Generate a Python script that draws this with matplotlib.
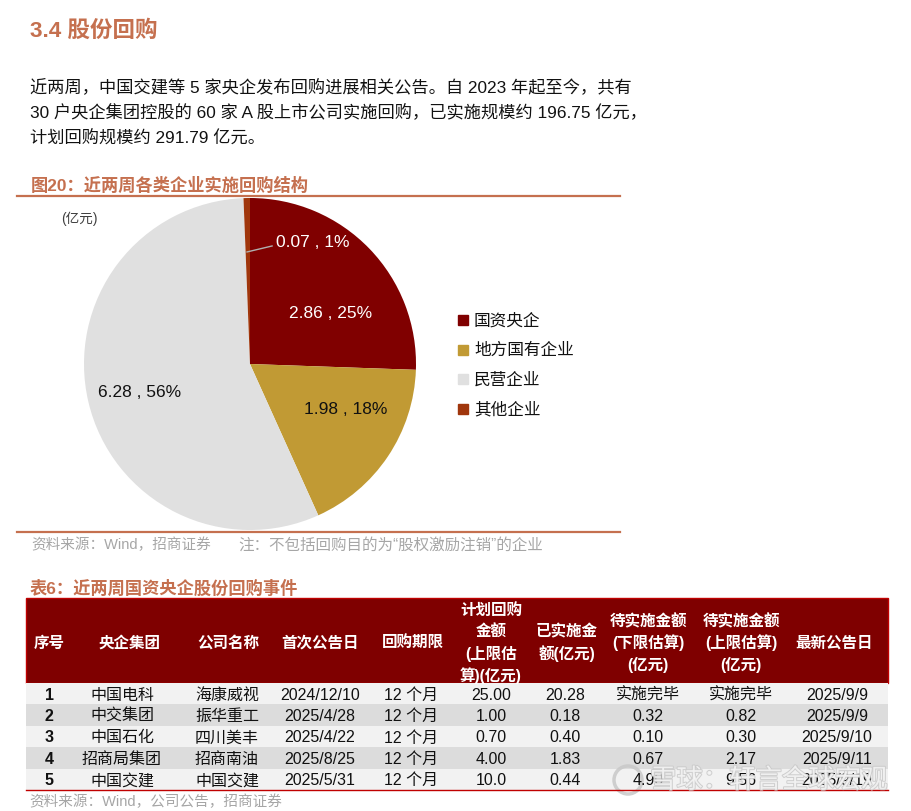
import matplotlib
matplotlib.use('Agg')
import matplotlib.pyplot as plt
from matplotlib.patches import Rectangle
import matplotlib.patheffects as pe

FAM = ['Liberation Sans', 'Noto Sans CJK SC']
plt.rcParams['font.family'] = FAM

# pie data
pie_names = ['国资央企', '地方国有企业', '民营企业', '其他企业']
pie_values = [2.86, 1.98, 6.28, 0.07]
pie_pcts = ['25%', '18%', '56%', '1%']
pie_colors = ['#800000', '#C19A34', '#E0E0E0', '#A0360C']

# table data
headers = ['序号', '央企集团', '公司名称', '首次公告日', '回购期限',
           '计划回购\n金额\n(上限估\n算)(亿元)', '已实施金\n额(亿元)',
           '待实施金额\n(下限估算)\n(亿元)', '待实施金额\n(上限估算)\n(亿元)', '最新公告日']
seq = ['1', '2', '3', '4', '5']
groups = ['中国电科', '中交集团', '中国石化', '招商局集团', '中国交建']
companies = ['海康威视', '振华重工', '四川美丰', '招商南油', '中国交建']
first_dates = ['2024/12/10', '2025/4/28', '2025/4/22', '2025/8/25', '2025/5/31']
periods = ['12 个月', '12 个月', '12 个月', '12 个月', '12 个月']
planned = ['25.00', '1.00', '0.70', '4.00', '10.0']
done = ['20.28', '0.18', '0.40', '1.83', '0.44']
remain_low = ['实施完毕', '0.32', '0.10', '0.67', '4.90']
remain_high = ['实施完毕', '0.82', '0.30', '2.17', '9.56']
latest = ['2025/9/9', '2025/9/9', '2025/9/10', '2025/9/11', '2025/9/19']

W, H = 911, 812
fig = plt.figure(figsize=(W / 100, H / 100), dpi=100)
ax = fig.add_axes([0, 0, 1, 1])
ax.set_xlim(0, W)
ax.set_ylim(H, 0)
ax.axis('off')

orange = '#C5704F'

# heading + paragraph
ax.text(30, 31, '3.4 股份回购', fontsize=16.2, fontweight='bold', color=orange, va='center')
para = ['近两周，中国交建等 5 家央企发布回购进展相关公告。自 2023 年起至今，共有',
        '30 户央企集团控股的 60 家 A 股上市公司实施回购，已实施规模约 196.75 亿元，',
        '计划回购规模约 291.79 亿元。']
for i, line in enumerate(para):
    ax.text(30, 87 + i * 25, line, fontsize=12.4, color='#111111', va='center')

# figure caption
ax.text(31, 185, '图20：近两周各类企业实施回购结构', fontsize=12.4, fontweight='bold',
        color=orange, va='center')
ax.plot([17, 620], [197, 197], color=orange, lw=1.6)
ax.plot([17, 620], [533, 533], color=orange, lw=1.6)
ax.text(31, 545, '资料来源：Wind，招商证券', fontsize=10.5, color='#A6A6A6', va='center')
ax.text(238, 545, '注：不包括回购目的为“股权激励注销”的企业', fontsize=11.2,
        color='#A6A6A6', va='center')
ax.text(61, 219, '(亿元)', fontsize=9.8, color='#404040', va='center')

# legend
for i, (n, c) in enumerate(zip(pie_names, pie_colors)):
    y = 321 + i * 29.5
    ax.add_patch(Rectangle((458, y - 5), 10, 10, color=c))
    ax.text(474, y, n, fontsize=12, color='#111111', va='center')

# pie
cx, cy, r = 250, 365, 166
pad = 1.01
pax = fig.add_axes([(cx - r * pad) / W, (H - cy - r * pad) / H, 2 * r * pad / W, 2 * r * pad / H])
pax.pie(pie_values, colors=pie_colors, startangle=90, counterclock=False,
        wedgeprops=dict(linewidth=0))
pax.set_xlim(-pad, pad)
pax.set_ylim(-pad, pad)
pax.axis('off')

label_pos = [(0.488, 0.313), (0.578, -0.271), (-0.663, -0.163), (0.376, 0.735)]
label_col = ['white', '#111111', '#111111', 'white']
for v, p, pos, col in zip(pie_values, pie_pcts, label_pos, label_col):
    pax.text(pos[0], pos[1], f'{v:.2f} , {p}', fontsize=12.5, color=col,
             ha='center', va='center')
pax.plot([-0.018, 0.133], [0.675, 0.711], color='#B0B0B0', lw=1)

# table
ax.text(30, 588, '表6：近两周国资央企股份回购事件', fontsize=12.4, fontweight='bold',
        color=orange, va='center')
x0, x1 = 26, 888
ax.add_patch(Rectangle((x0, 599), x1 - x0, 85, facecolor='#7F0000', edgecolor='#C00000', lw=1))
hx = [49, 129, 228, 320, 413, 491, 567, 648, 741, 834]
dx = [49, 122, 227, 320, 411, 491, 565, 648, 741, 837]
for x, h in zip(hx, headers):
    lines = h.split('\n')
    n = len(lines)
    for j, ln in enumerate(lines):
        ax.text(x, 643 + (j - (n - 1) / 2) * 21.5, ln, fontsize=11.2, fontweight='bold',
                color='white', ha='center', va='center')

cols = [seq, groups, companies, first_dates, periods, planned, done, remain_low, remain_high, latest]
row_h = 21.4
for i in range(len(seq)):
    top = 684 + i * row_h
    ax.add_patch(Rectangle((x0, top), x1 - x0, row_h, color='#F2F2F2' if i % 2 == 0 else '#DCDCDC', lw=0))
    for k, (x, col) in enumerate(zip(dx, cols)):
        ax.text(x, top + row_h / 2 + 0.5, col[i], fontsize=11.5, color='#111111',
                ha='center', va='center', fontweight='bold' if k == 0 else 'normal')
ax.plot([x0, x1], [791, 791], color='#C00000', lw=1)
ax.text(29, 802, '资料来源：Wind，公司公告，招商证券', fontsize=10.5, color='#A6A6A6', va='center')

# watermark
wm = ax.text(650, 781, '雪球：轩言全球宏观', fontsize=19, color='#F6F6F6', va='center', alpha=0.85)
wm.set_path_effects([pe.withStroke(linewidth=1.4, foreground='#C8C8C8')])
circ = plt.Circle((628, 781), 14, fill=False, ec='#C8C8C8', lw=2.5, alpha=0.85)
ax.add_patch(circ)

fig.savefig('out.png', dpi=100)
